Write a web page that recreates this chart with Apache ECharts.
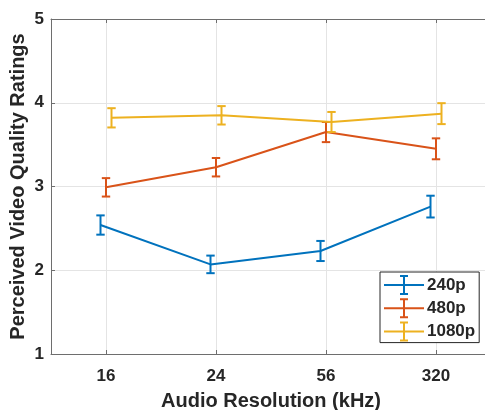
<!DOCTYPE html>
<html>
<head>
<meta charset="utf-8">
<script src="https://cdn.jsdelivr.net/npm/echarts@6/dist/echarts.min.js"></script>
<style>
  html, body { margin: 0; padding: 0; background: #fff; }
  #chart { width: 485px; height: 410px; }
</style>
</head>
<body>
<div id="chart"></div>
<script>
// ---- data ----
const categories = ['16', '24', '56', '320'];
const seriesNames = ['240p', '480p', '1080p'];
const mean240 = [2.54, 2.07, 2.23, 2.76];
const err240 = [0.115, 0.105, 0.12, 0.13];
const mean480 = [2.99, 3.23, 3.65, 3.45];
const err480 = [0.11, 0.11, 0.12, 0.125];
const mean1080 = [3.82, 3.85, 3.77, 3.87];
const err1080 = [0.115, 0.11, 0.12, 0.125];
const xOffsets = [-0.05, 0, 0.05];
const yTicks = [1, 2, 3, 4, 5];

const colors = ['#0072BD', '#D95319', '#EDB120'];
const means = [mean240, mean480, mean1080];
const errs = [err240, err480, err1080];
const catPos = categories.map((c, i) => i + 1);

const labelFont = { fontFamily: 'Liberation Sans, Arial, sans-serif', fontWeight: 'bold', color: '#262626' };

const series = [];
seriesNames.forEach((name, s) => {
  series.push({
    name: name,
    type: 'line',
    xAxisIndex: 0, yAxisIndex: 0,
    data: means[s].map((v, i) => [catPos[i] + xOffsets[s], v]),
    symbol: 'none',
    lineStyle: { color: colors[s], width: 2 },
    itemStyle: { color: colors[s] },
    z: 3 + s * 2,
    animation: false
  });
  series.push({
    name: name,
    type: 'custom',
    xAxisIndex: 0, yAxisIndex: 0,
    data: means[s].map((v, i) => [catPos[i] + xOffsets[s], v - errs[s][i], v + errs[s][i]]),
    renderItem: function (params, api) {
      const x = api.value(0);
      const lo = api.coord([x, api.value(1)]);
      const hi = api.coord([x, api.value(2)]);
      const hw = 4.2;
      const st = { stroke: colors[s], lineWidth: 2, fill: null };
      return {
        type: 'group',
        children: [
          { type: 'line', shape: { x1: lo[0], y1: lo[1], x2: hi[0], y2: hi[1] }, style: st },
          { type: 'line', shape: { x1: lo[0] - hw, y1: lo[1], x2: lo[0] + hw, y2: lo[1] }, style: st },
          { type: 'line', shape: { x1: hi[0] - hw, y1: hi[1], x2: hi[0] + hw, y2: hi[1] }, style: st }
        ]
      };
    },
    z: 4 + s * 2,
    animation: false
  });
});

const legendIcon = 'path://M0,9H40V11H0Z M19,1H21V19H19Z M16,0H24V2H16Z M16,18H24V20H16Z';

const axisLineStyle = { color: '#6e6e6e', width: 1 };

const option = {
  animation: false,
  backgroundColor: '#ffffff',
  grid: { left: 51, top: 19, width: 440, height: 335, containLabel: false, outerBoundsMode: 'none' },
  xAxis: [
    {
      type: 'value', position: 'bottom', min: 0.5, max: 4.5,
      name: 'Audio Resolution (kHz)', nameLocation: 'middle', nameGap: 37, nameMoveOverlap: false,
      nameTextStyle: Object.assign({ fontSize: 20 }, labelFont),
      axisLine: { show: true, lineStyle: axisLineStyle },
      axisTick: { show: true, inside: true, length: 4, customValues: catPos, lineStyle: axisLineStyle },
      axisLabel: Object.assign({ fontSize: 17, margin: 14, customValues: catPos,
        formatter: function (v) { const i = Math.round(v) - 1; return categories[i] !== undefined ? categories[i] : ''; } }, labelFont),
      splitLine: { show: true, lineStyle: { color: '#e4e4e4', width: 1 } }
    },
    {
      type: 'value', position: 'top', min: 0.5, max: 4.5,
      axisLine: { show: true, lineStyle: axisLineStyle },
      axisTick: { show: true, inside: true, length: 4, customValues: catPos, lineStyle: axisLineStyle },
      axisLabel: { show: false },
      splitLine: { show: false }
    }
  ],
  yAxis: [
    {
      type: 'value', min: 1, max: 5, interval: 1,
      name: 'Perceived Video Quality Ratings', nameLocation: 'middle', nameGap: 23, nameMoveOverlap: false,
      nameTextStyle: Object.assign({ fontSize: 20 }, labelFont),
      axisLine: { show: true, lineStyle: axisLineStyle },
      axisTick: { show: true, inside: true, length: 4, lineStyle: axisLineStyle },
      axisLabel: Object.assign({ fontSize: 17, margin: 7,
        formatter: function (v) { return yTicks.indexOf(v) >= 0 ? String(v) : ''; } }, labelFont),
      splitLine: { show: true, lineStyle: { color: '#e4e4e4', width: 1 } }
    },
    {
      type: 'value', position: 'right', min: 1, max: 5, interval: 1,
      axisLine: { show: true, lineStyle: axisLineStyle },
      axisTick: { show: false }, axisLabel: { show: false }, splitLine: { show: false }
    }
  ],
  legend: {
    orient: 'vertical',
    left: 380, top: 272,
    padding: [3, 4, 1, 4],
    itemWidth: 40, itemHeight: 20, itemGap: 3.3,
    backgroundColor: '#ffffff',
    borderColor: '#262626', borderWidth: 1,
    textStyle: Object.assign({ fontSize: 17, padding: [0, 0, 0, -2] }, labelFont),
    data: seriesNames.map((n, s) => ({ name: n, icon: legendIcon, itemStyle: { color: colors[s] } })),
    selectedMode: false
  },
  series: series
};

const chart = echarts.init(document.getElementById('chart'), null, { renderer: 'canvas' });
chart.setOption(option);
</script>
</body>
</html>
